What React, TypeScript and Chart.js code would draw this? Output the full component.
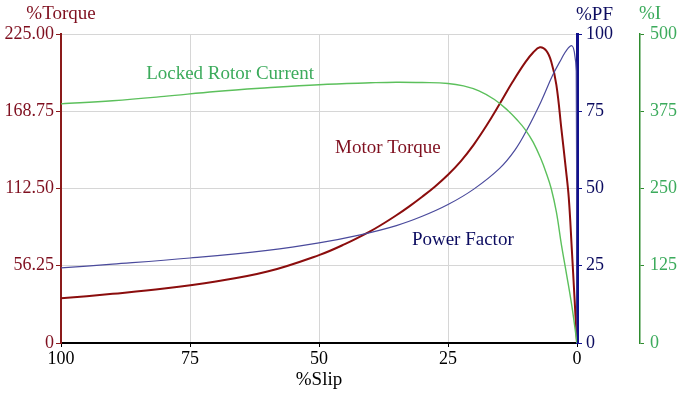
import React, { useEffect, useRef } from 'react';
import { Chart, registerables } from 'chart.js';

Chart.register(...registerables);

const FONT = "'Liberation Serif', 'Times New Roman', serif";

// Motor torque (% of rated) vs slip (%)
const torqueSlip = [100, 90, 80, 70, 60, 50, 45, 40, 37.5, 35, 32.5, 30, 27.5, 25, 22.5, 20, 17.5, 15, 12.5, 10, 8.5, 7.2, 6, 5, 4, 3, 2.2, 1.6, 1.0, 0.5, 0];
const torqueValues = [32.5, 35.8, 39.6, 44.8, 52, 64, 72, 81.5, 87, 93, 99.5, 106.5, 114, 122.5, 132.5, 144.5, 158.5, 174, 190, 204.5, 211.5, 215.3, 213, 205, 188, 155, 128, 106, 68, 34, 0];

// Power factor (%) vs slip (%)
const pfSlip = [100, 90, 75, 60, 50, 42, 35, 30, 25, 20, 15, 12, 9.7, 7, 4.7, 3, 2, 1.0, 0.5, 0.15, 0];
const pfValues = [24.3, 25.5, 27.5, 30, 32.4, 35, 38, 41, 44.8, 49.8, 56.5, 62.5, 69, 78, 86.7, 92, 94.8, 96.2, 94, 88, 0];

// Locked rotor current (%) vs slip (%)
const currentSlip = [100, 90, 80, 70, 60, 50, 40, 35, 30, 25, 22, 19, 16, 13.5, 11.5, 10, 8.5, 7, 6, 5, 4, 3, 2, 1, 0];
const currentValues = [387, 392, 399, 407, 413, 418, 421, 422, 421.5, 420, 416, 408, 394, 377, 360, 345, 325, 298, 276, 250, 212, 158, 110, 60, 0];

// Axis ticks
const slipTicks = [0, 25, 50, 75, 100];
const torqueTicks = [0, 56.25, 112.5, 168.75, 225];
const torqueTickLabels = ['0', '56.25', '112.50', '168.75', '225.00'];
const pfTicks = [0, 25, 50, 75, 100];
const currentTicks = [0, 125, 250, 375, 500];

// Texts
const axisTitles = { torque: '%Torque', pf: '%PF', current: '%I', slip: '%Slip' };
const seriesNames = ['Motor Torque', 'Power Factor', 'Locked Rotor Current'];
// label anchors in data units (slip, torque-axis value)
const labelSlip = [46.9, 32.0, 83.5];
const labelTorque = [138.4, 71.4, 192.2];

const C = {
  torqueLine: '#8b0d0d',
  torqueAxis: '#8b1a1a',
  torqueText: '#7f0f1f',
  pfLine: '#4a4a9c',
  pfAxis: '#10108c',
  pfText: '#0c0c60',
  curLine: '#5cc05c',
  curAxis: '#2e8b2e',
  curText: '#3cab5c',
  grid: '#d6d6d6',
};

const textPlugin = {
  id: 'textPlugin',
  afterDraw(chart: any) {
    const ctx = chart.ctx;
    const { x, yT, yPF, yI } = chart.scales;
    ctx.save();
    ctx.font = `19px ${FONT}`;
    ctx.textBaseline = 'alphabetic';
    ctx.textAlign = 'center';
    ctx.fillStyle = C.torqueText;
    ctx.fillText(axisTitles.torque, yT.right, 19);
    ctx.textAlign = 'left';
    ctx.fillStyle = C.pfText;
    ctx.fillText(axisTitles.pf, yPF.left - 1, 20);
    ctx.fillStyle = C.curText;
    ctx.fillText(axisTitles.current, yI.left - 1, 19);
    const colors = [C.torqueText, C.pfText, C.curText];
    seriesNames.forEach((name, i) => {
      ctx.fillStyle = colors[i];
      ctx.fillText(name, x.getPixelForValue(labelSlip[i]), yT.getPixelForValue(labelTorque[i]));
    });
    ctx.restore();
  },
};

const toXY = (xs: number[], ys: number[]) => xs.map((v, i) => ({ x: v, y: ys[i] }));

export default function App() {
  const ref = useRef<HTMLCanvasElement | null>(null);
  useEffect(() => {
    if (!ref.current) return;
    const tickFont = { family: FONT, size: 18 };
    const chart = new Chart(ref.current, {
      type: 'scatter',
      data: {
        datasets: [
          {
            label: seriesNames[2],
            data: toXY(currentSlip, currentValues),
            yAxisID: 'yI',
            borderColor: C.curLine,
            borderWidth: 1.4,
            showLine: true,
            pointRadius: 0,
            tension: 0.4,
          },
          {
            label: seriesNames[1],
            data: toXY(pfSlip, pfValues),
            yAxisID: 'yPF',
            borderColor: C.pfLine,
            borderWidth: 1.2,
            showLine: true,
            pointRadius: 0,
            tension: 0.4,
          },
          {
            label: seriesNames[0],
            data: toXY(torqueSlip, torqueValues),
            yAxisID: 'yT',
            borderColor: C.torqueLine,
            borderWidth: 2,
            showLine: true,
            pointRadius: 0,
            tension: 0.4,
          },
        ],
      },
      options: {
        responsive: false,
        animation: false,
        events: [],
        layout: { padding: { top: 34, left: 0, right: 0, bottom: 0 } },
        plugins: { legend: { display: false }, tooltip: { enabled: false } },
        scales: {
          x: {
            type: 'linear',
            reverse: true,
            min: 0,
            max: 100,
            afterBuildTicks: (s: any) => { s.ticks = slipTicks.map((v) => ({ value: v })); },
            afterFit: (s: any) => { s.height = 52; },
            ticks: { font: tickFont, color: '#000', padding: 1, autoSkip: false, maxRotation: 0 },
            grid: { color: C.grid, tickColor: '#000', tickLength: 4 },
            border: { color: '#000', width: 2 },
            title: { display: true, text: axisTitles.slip, font: { family: FONT, size: 19 }, color: '#000', padding: { top: 0, bottom: 4 } },
          },
          yT: {
            type: 'linear',
            position: 'left',
            min: 0,
            max: 225,
            afterBuildTicks: (s: any) => { s.ticks = torqueTicks.map((v) => ({ value: v })); },
            afterFit: (s: any) => { s.width = 61; },
            ticks: {
              font: tickFont,
              color: C.torqueText,
              padding: 2,
              callback: (v: any) => torqueTickLabels[torqueTicks.indexOf(Number(v))] ?? '',
            },
            grid: { color: C.grid, tickColor: C.torqueAxis, tickLength: 5 },
            border: { color: C.torqueAxis, width: 2 },
          },
          yPF: {
            type: 'linear',
            position: 'right',
            min: 0,
            max: 100,
            afterBuildTicks: (s: any) => { s.ticks = pfTicks.map((v) => ({ value: v })); },
            afterFit: (s: any) => { s.width = 63; },
            ticks: { font: tickFont, color: C.pfText, padding: 4 },
            grid: { drawOnChartArea: false, tickColor: C.pfAxis, tickLength: 5 },
            border: { color: C.pfAxis, width: 3 },
          },
          yI: {
            type: 'linear',
            position: 'right',
            min: 0,
            max: 500,
            afterBuildTicks: (s: any) => { s.ticks = currentTicks.map((v) => ({ value: v })); },
            afterFit: (s: any) => { s.width = 47; },
            ticks: { font: tickFont, color: C.curText, padding: 6 },
            grid: { drawOnChartArea: false, tickColor: C.curAxis, tickLength: 4 },
            border: { color: C.curAxis, width: 1.5 },
          },
        },
      } as any,
      plugins: [textPlugin],
    });
    return () => chart.destroy();
  }, []);
  return (
    <div style={{ position: 'absolute', left: 0, top: 0, width: 687, height: 395, background: '#fff' }}>
      <canvas ref={ref} width={687} height={395} style={{ display: 'block' }} />
    </div>
  );
}
